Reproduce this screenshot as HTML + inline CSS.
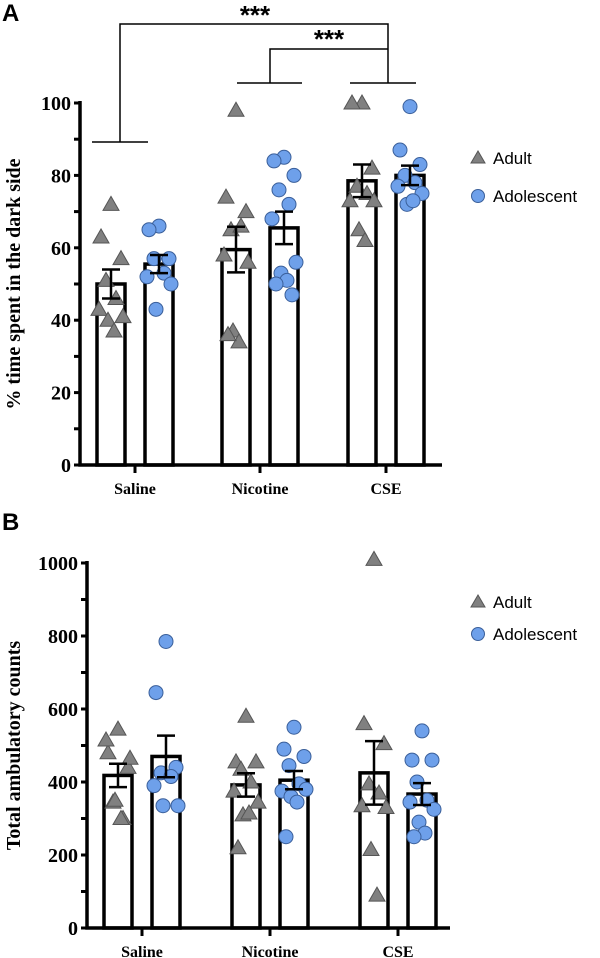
<!DOCTYPE html>
<html><head><meta charset="utf-8"><style>
html,body{margin:0;padding:0;background:#fff;}
svg{display:block;font-family:"Liberation Serif",serif;}
</style></head><body>
<svg id="chart" width="600" height="958" viewBox="0 0 600 958"></svg>
<script>
const categories = ["Saline","Nicotine","CSE"];
const aAdultMeans = [50, 59.5, 78.5];
const aAdultSem = [4, 6.3, 4.5];
const aAdolMeans = [55.5, 65.5, 80];
const aAdolSem = [2.5, 4.5, 2.7];
const aAdultPts = [[72,63,57,51,46,43,41,40,37],[98,74,70,65,66,58,56,37,34,36],[100,100,82,77,75,73,73,65,62]];
const aAdolPts = [[66,65,57,57,53,52,50,43],[85,84,80,76,72,68,56,53,51,50,47],[99,87,83,80,78,77,75,72,73]];
const aTicks = [0,20,40,60,80,100];
const bAdultMeans = [418, 392, 425];
const bAdultSem = [32, 32, 87];
const bAdolMeans = [470, 405, 367];
const bAdolSem = [57, 25, 30];
const bAdultPts = [[545,480,440,345,300,515,465,350,300],[580,455,455,435,400,375,345,310,315,220],[1010,560,505,395,370,335,330,215,90]];
const bAdolPts = [[785,645,440,425,415,390,335,335],[550,490,470,445,395,375,380,360,345,250],[540,460,460,400,350,345,325,290,260,250]];
const bTicks = [0,200,400,600,800,1000];

const svg = document.getElementById('chart');
const NS = 'http://www.w3.org/2000/svg';
function mk(tag, attrs, parent){const e=document.createElementNS(NS,tag);for(const k in attrs)e.setAttribute(k,attrs[k]);(parent||svg).appendChild(e);return e;}
function txt(x,y,s,attrs){const e=mk('text',Object.assign({x:x,y:y},attrs));e.textContent=s;return e;}
const jit=[0,-10,10,-5,5,-12,12,-3,3,-8,8];

function panel(o){
  const y=v=>o.y0-(v/o.max)*(o.y0-o.yTop);
  const g=mk('g',{});
  
  
  const minorStep=o.ticks[1]/2;
  for(let v=0; v<=o.max+0.001; v+=minorStep){
    const t=mk('line',{x1:o.ax-6,x2:o.ax,y1:y(v),y2:y(v),stroke:'#000','stroke-width':3},g);
    
  }
  o.ticks.forEach(v=>{
    const l=txt(o.ax-9,y(v)+7,String(v),{'text-anchor':'end','font-size':20,'font-weight':'bold'});
    
  });
  const yt=txt(0,0,o.ytitle,{'font-size':20,'font-weight':'bold','text-anchor':'middle',transform:`translate(${o.ytx},${(o.y0+o.yTop)/2}) rotate(-90)`});
  
  categories.forEach((c,i)=>{
    const gc=o.gx[i];
    [[o.adM,o.adS,o.adP,-24,'adult'],[o.aoM,o.aoS,o.aoP,24,'adolescent']].forEach(([M,S,P,off,nm])=>{
      const cx=gc+off;
      const b=mk('rect',{x:cx-14,y:y(M[i]),width:28,height:o.y0-y(M[i]),fill:'#fff',stroke:'#000','stroke-width':3.5},g);
      
      P[i].forEach((v,k)=>{
        const px=cx+jit[k%jit.length], py=y(v);
        let p;
        if(nm==='adult'){
          p=mk('polygon',{points:`${px},${py-8} ${px-8},${py+6} ${px+8},${py+6}`,fill:'#808080',stroke:'#555','stroke-width':1},g);
        } else {
          p=mk('circle',{cx:px,cy:py,r:7,fill:'#6ea0ea',stroke:'#3a5f9a','stroke-width':1},g);
        }
        
      });
      const yt1=y(M[i]+S[i]), yb=y(M[i]-S[i]);
      const e=mk('path',{d:`M${cx},${yt1}V${yb}M${cx-9},${yt1}H${cx+9}M${cx-9},${yb}H${cx+9}`,stroke:'#000','stroke-width':2.5,fill:'none'},g);
      
    });
    const xt=mk('line',{x1:gc,x2:gc,y1:o.y0,y2:o.y0+8,stroke:'#000','stroke-width':3},g);
    
    const xl=txt(gc,o.y0+29,c,{'text-anchor':'middle','font-size':16,'font-weight':'bold'});
    
  });
  const ax=mk('path',{d:`M${o.ax},${o.yTop-2}V${o.y0}H${o.axEnd}`,stroke:'#000','stroke-width':3.5,fill:'none'},g);
  
  const lt=mk('polygon',{points:`478,${o.legY-7} 471,${o.legY+5} 485,${o.legY+5}`,fill:'#808080',stroke:'#555'},g);
  
  const l1=txt(493,o.legY+6,'Adult',{'font-size':17,'font-family':'Liberation Sans, sans-serif'});
  
  const lc=mk('circle',{cx:478,cy:o.legY+o.legGap,r:6.5,fill:'#6ea0ea',stroke:'#3a5f9a'},g);
  
  const l2=txt(493,o.legY+o.legGap+6,'Adolescent',{'font-size':17,'font-family':'Liberation Sans, sans-serif'});
  
  const pl=txt(2,o.labelY,o.label,{'font-size':24,'font-weight':'bold','font-family':'Liberation Sans, sans-serif'});
  
}
panel({name:'panel-a',label:'A',labelY:21,ax:80,axEnd:442,y0:465,yTop:103,max:100,ticks:aTicks,gx:[135,260,386],
  adM:aAdultMeans,adS:aAdultSem,adP:aAdultPts,aoM:aAdolMeans,aoS:aAdolSem,aoP:aAdolPts,
  ytitle:'% time spent in the dark side',ytx:20,legY:158,legGap:38});
panel({name:'panel-b',label:'B',labelY:530,ax:87,axEnd:450,y0:928,yTop:563,max:1000,ticks:bTicks,gx:[142,270,398],
  adM:bAdultMeans,adS:bAdultSem,adP:bAdultPts,aoM:bAdolMeans,aoS:bAdolSem,aoP:bAdolPts,
  ytitle:'Total ambulatory counts',ytx:20,legY:602,legGap:32});
const br=mk('path',{d:'M92,142H148M120,142V24H388V83M350,83H416M237,83H302M270,83V49H388',stroke:'#000','stroke-width':1.5,fill:'none'});

const s1=txt(255,24,'***',{'text-anchor':'middle','font-size':26,'font-weight':'bold','font-family':'Liberation Sans, sans-serif'});

const s2=txt(329,48,'***',{'text-anchor':'middle','font-size':26,'font-weight':'bold','font-family':'Liberation Sans, sans-serif'});

</script>
</body></html>
